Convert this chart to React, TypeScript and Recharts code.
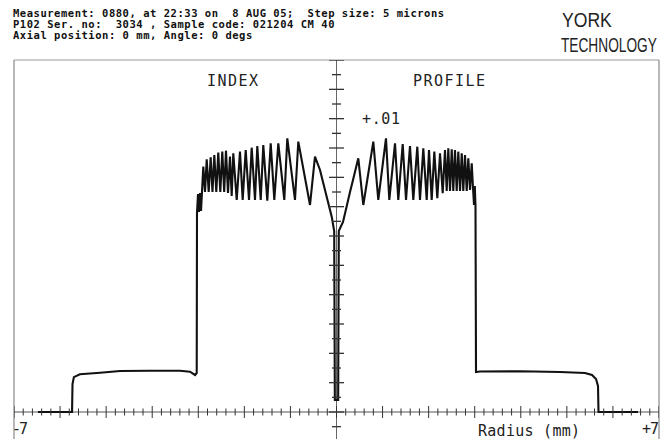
import { ComposedChart, Line, Scatter, XAxis, YAxis, ReferenceLine } from 'recharts';

// radius in mm, index difference
const radius = [
  -6.48, -5.74, -5.73, -5.7, -5.57, -5.13, -4.7, -4.05, -3.4, -3.18, -3.07, -3.034, -3.028,
  -3.006, -2.985, -2.963, -2.941, -2.891, -2.854, -2.817, -2.774, -2.731, -2.692, -2.652,
  -2.609, -2.566, -2.522, -2.479, -2.438, -2.399, -2.355, -2.312, -2.275, -2.24, -2.166,
  -2.095, -2.036, -1.971, -1.899, -1.841, -1.769, -1.719, -1.645, -1.589, -1.502, -1.428,
  -1.35, -1.263, -1.133, -1.068, -0.901, -0.829, -0.575, -0.467, -0.358, -0.213, -0.104,
  -0.05, -0.036, 0.036, 0.05, 0.141, 0.228, 0.293, 0.358, 0.473, 0.582, 0.799, 0.907,
  1.074, 1.146, 1.27, 1.341, 1.437, 1.509, 1.595, 1.667, 1.754, 1.812, 1.884, 1.958, 2.008,
  2.066, 2.123, 2.188, 2.247, 2.305, 2.355, 2.392, 2.427, 2.464, 2.501, 2.535, 2.572, 2.609,
  2.644, 2.681, 2.718, 2.752, 2.789, 2.826, 2.861, 2.898, 2.935, 2.963, 2.985, 3.002, 3.017,
  3.028, 3.115, 3.983, 4.851, 5.394, 5.546, 5.633, 5.676, 5.687, 6.544,
];

const index = [
  0, 0, 0.000955, 0.00119, 0.001285, 0.00134, 0.001398, 0.001408, 0.001408, 0.001374,
  0.001262, 0.00133, 0.006785, 0.007433, 0.006819, 0.007467, 0.006853, 0.008364, 0.007501,
  0.008616, 0.007501, 0.008684, 0.007501, 0.008762, 0.007501, 0.008841, 0.007501, 0.008875,
  0.007501, 0.008909, 0.007467, 0.008705, 0.007365, 0.00882, 0.007228, 0.008875, 0.007228,
  0.008933, 0.007228, 0.009011, 0.007228, 0.009069, 0.007228, 0.009103, 0.007204, 0.009161,
  0.007228, 0.009161, 0.007228, 0.009332, 0.007228, 0.009216, 0.007058, 0.008705, 0.008251,
  0.007341, 0.006659, 0.006171, 0.000409, 0.000409, 0.006171, 0.006478, 0.007058, 0.007501,
  0.00791, 0.00865, 0.007058, 0.009216, 0.007228, 0.009332, 0.007228, 0.009161, 0.007228,
  0.009137, 0.007228, 0.009069, 0.007228, 0.009045, 0.007228, 0.008991, 0.007228, 0.008933,
  0.007228, 0.008875, 0.007286, 0.00882, 0.007457, 0.008933, 0.007535, 0.008991, 0.007535,
  0.008957, 0.007535, 0.008933, 0.007535, 0.008875, 0.007535, 0.00882, 0.007535, 0.008762,
  0.007535, 0.00865, 0.007569, 0.008479, 0.007637, 0.007058, 0.007705, 0.007024, 0.001364,
  0.001381, 0.001388, 0.001364, 0.00133, 0.001262, 0.001125, 0.000886, 0, 0,
];

const xTickValues = Array.from({ length: 71 }, (_, i) => Math.round((-7 + i * 0.2) * 10) / 10);
const yTickValues = Array.from({ length: 26 }, (_, i) => Math.round((-0.0005 + i * 0.0005) * 1e5) / 1e5);

const headerLines = [
  'Measurement: 0880, at 22:33 on  8 AUG 05;  Step size: 5 microns',
  'P102 Ser. no:  3034 , Sample code: 021204 CM 40',
  'Axial position: 0 mm, Angle: 0 degs',
];

const Y_TOP = 0.012;
const Y_BOTTOM = -0.00092;

const profile = radius.map((r, i) => ({ r, v: index[i] }));
const xTicks = xTickValues.map((r) => ({ r, v: 0, major: Number.isInteger(r) }));
const yTicks = yTickValues.map((v) => ({ r: 0, v, major: Math.round(v * 1e4) % 10 === 0 }));

const XTickMark = (props: any) => {
  const { cx, cy, payload } = props;
  const h = payload.major ? 6 : 3.5;
  return <line x1={cx} x2={cx} y1={cy - h} y2={cy + h} stroke="#333" strokeWidth={1} />;
};

const YTickMark = (props: any) => {
  const { cx, cy, payload } = props;
  const w = payload.major ? 7.5 : 4.5;
  return <line x1={cx - w} x2={cx + w} y1={cy} y2={cy} stroke="#333" strokeWidth={1.3} />;
};

const mono = '"DejaVu Sans Mono", monospace';
const sans = '"Liberation Sans", Arial, sans-serif';

export default function App() {
  return (
    <div style={{ position: 'absolute', left: 0, top: 0, width: 661, height: 439, background: '#fff' }}>
      <ComposedChart
        width={661}
        height={439}
        data={profile}
        margin={{ top: 60, right: 2, bottom: 0, left: 14 }}
      >
        <XAxis type="number" dataKey="r" domain={[-7, 7]} hide allowDataOverflow />
        <YAxis type="number" dataKey="v" domain={[Y_BOTTOM, Y_TOP]} hide allowDataOverflow />
        <ReferenceLine x={-7} stroke="#888" strokeWidth={1.2} />
        <ReferenceLine x={7} stroke="#888" strokeWidth={1.2} />
        <ReferenceLine y={Y_TOP} stroke="#999" strokeWidth={1.2} />
        <ReferenceLine y={0} stroke="#555" strokeWidth={1} />
        <ReferenceLine x={0} stroke="#666" strokeWidth={1} />
        <Scatter data={xTicks} dataKey="v" shape={XTickMark} isAnimationActive={false} />
        <Scatter data={yTicks} dataKey="v" shape={YTickMark} isAnimationActive={false} />
        <Line
          type="linear"
          dataKey="v"
          stroke="#111"
          strokeWidth={2.1}
          dot={false}
          isAnimationActive={false}
        />
      </ComposedChart>
      <svg
        width={661}
        height={439}
        style={{ position: 'absolute', left: 0, top: 0, pointerEvents: 'none' }}
      >
        {headerLines.map((line, i) => (
          <text
            key={i}
            x={13}
            y={17 + i * 11}
            fontFamily={mono}
            fontWeight="bold"
            fontSize={10.5}
            letterSpacing={0.53}
            fill="#111"
            style={{ whiteSpace: 'pre' }}
          >
            {line}
          </text>
        ))}
        <text transform="translate(562,27) scale(0.88,1)" fontFamily={sans} fontSize={20} fill="#222">
          YORK
        </text>
        <text transform="translate(561,52) scale(0.685,1)" fontFamily={sans} fontSize={20} fill="#222">
          TECHNOLOGY
        </text>
        <text x={207} y={86} fontFamily={mono} fontSize={15} textLength={51} fill="#222">INDEX</text>
        <text x={413} y={86} fontFamily={mono} fontSize={15} textLength={72} fill="#222">PROFILE</text>
        <text x={362} y={124} fontFamily={mono} fontSize={15} textLength={38} fill="#222">+.01</text>
        <text x={12} y={434} fontFamily={mono} fontSize={15} textLength={16} fill="#222">-7</text>
        <text x={642} y={434} fontFamily={mono} fontSize={15} textLength={17} fill="#222">+7</text>
        <text x={478} y={436} fontFamily={mono} fontSize={15} textLength={102} fill="#222" style={{ whiteSpace: 'pre' }}>
          Radius (mm)
        </text>
      </svg>
    </div>
  );
}
